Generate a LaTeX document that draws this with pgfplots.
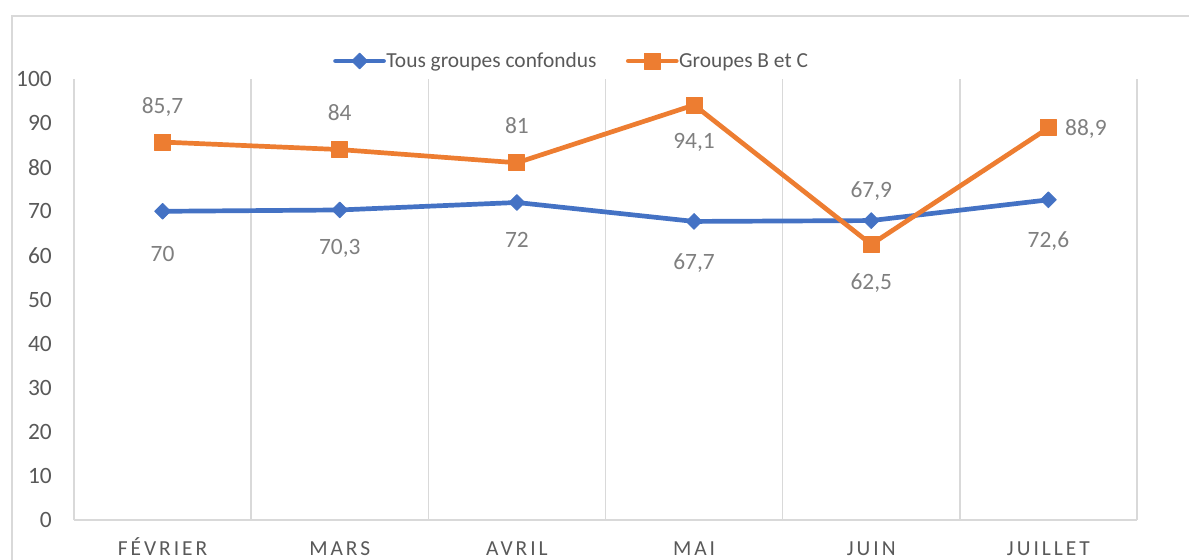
\documentclass[border=0pt]{standalone}
\usepackage{fontspec}
\setmainfont{Carlito}
\newfontfamily\spaced[LetterSpace=14]{Carlito}
\usepackage{pgfplots}
\pgfplotsset{compat=1.18}
\usepackage{pgfplotstable}
\definecolor{cblue}{HTML}{4472C4}
\definecolor{corange}{HTML}{ED7D31}
\definecolor{tgray}{HTML}{595959}
\definecolor{lgray}{HTML}{7F7F7F}
\definecolor{ggray}{HTML}{D9D9D9}

\pgfplotstableread{
x y lbl dx dy
0 70 70 0 -50
1 70.3 70,3 0 -45
2 72 72 0 -45
3 67.7 67,7 0 -48
4 67.9 67,9 0 23
5 72.6 72,6 0 -48
}\tblA
\pgfplotstableread{
x y lbl dx dy
0 85.7 85,7 0 29
1 84 84 0 29
2 81 81 0 29
3 94.1 94,1 0 -43
4 62.5 62,5 0 -45
5 88.9 88,9 37.5 -8
}\tblB

\begin{document}
\begin{tikzpicture}
\begin{axis}[
  at={(0,0)}, anchor=south west,
  scale only axis, width=1063bp, height=441bp,
  xmin=-0.5, xmax=5.5, ymin=0, ymax=100,
  xtick={0,...,5},
  xticklabels={FÉVRIER,MARS,AVRIL,MAI,JUIN,JUILLET},
  ytick={0,10,...,100},
  minor xtick={-0.5,0.5,...,5.5},
  xminorgrids=true,
  minor grid style={ggray, line width=1.5bp},
  axis line style={draw=none},
  tick style={draw=none},
  major tick length=0pt, minor tick length=0pt,
  clip=false,
  /pgf/number format/assume math mode=true,
  yticklabel style={font=\fontsize{23.5}{28}\selectfont, text=tgray, anchor=east, inner sep=0pt, xshift=-22bp},
  xticklabel style={font=\fontsize{21.5}{26}\selectfont\spaced, text=tgray, anchor=base, inner sep=0pt, yshift=-35bp},
  point meta=explicit symbolic,
  nodes near coords,
  visualization depends on={\thisrow{dx} \as \mydx},
  visualization depends on={\thisrow{dy} \as \mydy},
  every node near coord/.append style={anchor=base, xshift=\mydx bp, yshift=\mydy bp, font=\fontsize{23.5}{28}\selectfont, text=lgray, inner sep=0pt},
  legend image code/.code={\draw[mark repeat=2,mark phase=2,#1] plot coordinates {(0bp,0bp) (24bp,0bp) (48bp,0bp)};},
  legend style={at={(0.2437,1.0408)}, anchor=west, draw=none, fill=none, inner sep=0pt,
    legend columns=2, font=\fontsize{21.5}{26}\selectfont, text=tgray,
    nodes={inner sep=0.5bp},
    /tikz/every even column/.append style={column sep=29bp}},
]
\draw[ggray, line width=1.5bp] (axis cs:-0.5,0) -- (axis cs:5.5,0);
\addplot[cblue, line width=4.7bp, line join=round, line cap=round, mark=square*, mark size=5.6bp,
  mark options={solid, rotate=45, fill=cblue, draw=cblue, line width=0.8bp}]
  table[x=x, y=y, meta=lbl] {\tblA};
\addlegendentry{Tous groupes confondus}
\addplot[corange, line width=4.7bp, line join=round, line cap=round, mark=square*, mark size=8bp,
  mark options={solid, fill=corange, draw=corange, line width=1bp}]
  table[x=x, y=y, meta=lbl] {\tblB};
\addlegendentry{Groupes B et C}
\end{axis}
\draw[ggray, line width=1.5bp] (-62bp,-60bp) -- (-62bp,504bp) -- (1140bp,504bp);
\pgfresetboundingbox
\path[use as bounding box] (-74bp,-40bp) rectangle (1115bp,520bp);
\end{tikzpicture}
\end{document}
